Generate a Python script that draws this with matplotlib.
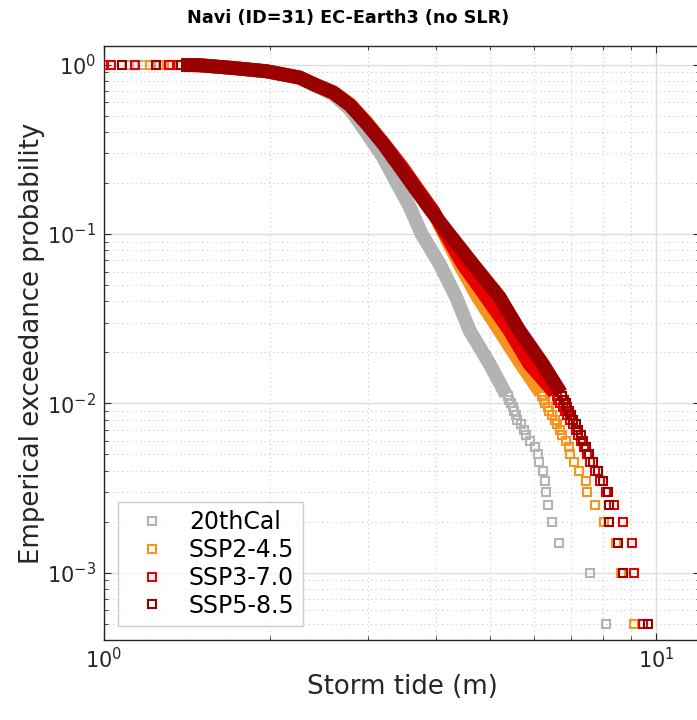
import matplotlib
matplotlib.use("Agg")
import matplotlib.pyplot as plt

plt.rcParams['font.family'] = ['DejaVu Sans']
plt.rcParams['mathtext.fontset'] = 'dejavusans'

# Scenario names and colours
SERIES = ["20thCal", "SSP2-4.5", "SSP3-7.0", "SSP5-8.5"]
COLORS = ["#b3b3b3", "#f7941d", "#e60000", "#990000"]

# Smallest storm tides of each set (exceedance probability close to 1)
LOW_P = [1.0, 0.9995, 0.999, 0.9985, 0.998]
LOW_20TH = [1.11, 1.17, 1.28]
LOW_SSP245 = [1.21, 1.26, 1.33]
LOW_SSP370 = [1.00, 1.03, 1.14, 1.31, 1.36]
LOW_SSP585 = [1.08, 1.24, 1.38]

# Bulk of the empirical exceedance curves: storm tide (m) vs probability
BODY_X_20TH = [1.40, 1.49, 1.71, 1.97, 2.26, 2.42, 2.60, 2.79, 2.99, 3.20,
               3.39, 3.58, 3.76, 4.05, 4.34, 4.59, 4.99, 5.35]
BODY_P_20TH = [0.998, 0.993, 0.957, 0.912, 0.835, 0.75, 0.67, 0.545, 0.395,
               0.285, 0.20, 0.144, 0.10, 0.0668, 0.0425, 0.027, 0.0171, 0.0112]

BODY_X_SSP245 = [1.38, 1.49, 1.71, 1.97, 2.26, 2.42, 2.60, 2.79, 2.99, 3.20,
                 3.45, 3.70, 3.94, 4.10, 4.40, 4.75, 5.20, 5.69, 6.18]
BODY_P_SSP245 = [0.998, 0.993, 0.957, 0.915, 0.84, 0.76, 0.69, 0.585, 0.458,
                 0.345, 0.25, 0.181, 0.136, 0.105, 0.0668, 0.0425, 0.027,
                 0.0171, 0.0115]

BODY_X_SSP370 = [1.38, 1.49, 1.71, 1.97, 2.26, 2.42, 2.60, 2.79, 2.99, 3.21,
                 3.46, 3.71, 3.95, 4.12, 4.46, 4.92, 5.42, 5.89, 6.55]
BODY_P_SSP370 = [0.998, 0.993, 0.957, 0.915, 0.84, 0.757, 0.685, 0.577,
                 0.449, 0.342, 0.25, 0.181, 0.136, 0.105, 0.0668, 0.0425,
                 0.027, 0.0171, 0.0115]

BODY_X_SSP585 = [1.38, 1.49, 1.71, 1.97, 2.26, 2.42, 2.60, 2.79, 2.99, 3.20,
                 3.43, 3.68, 3.92, 4.17, 4.65, 5.20, 5.65, 6.23, 6.72]
BODY_P_SSP585 = [0.998, 0.993, 0.957, 0.915, 0.84, 0.757, 0.685, 0.577,
                 0.449, 0.342, 0.25, 0.181, 0.136, 0.105, 0.0668, 0.0425,
                 0.027, 0.0171, 0.0115]

# Largest events: exceedance probability of ranks 1..22 (N = 2000)
TAIL_P = [0.0005, 0.0010, 0.0015, 0.0020, 0.0025, 0.0030, 0.0035, 0.0040,
          0.0045, 0.0050, 0.0055, 0.0060, 0.0065, 0.0070, 0.0075, 0.0080,
          0.0085, 0.0090, 0.0095, 0.0100, 0.0105, 0.0110]
TAIL_20TH = [8.11, 7.60, 6.68, 6.48, 6.36, 6.32, 6.30, 6.23, 6.14, 6.10,
             6.02, 5.90, 5.81, 5.75, 5.68, 5.60, 5.57, 5.52, 5.50, 5.46,
             5.42, 5.38]
TAIL_SSP245 = [9.10, 8.62, 8.45, 8.03, 7.75, 7.48, 7.45, 7.24, 7.09, 6.98,
               6.94, 6.85, 6.75, 6.70, 6.62, 6.55, 6.47, 6.40, 6.36, 6.30,
               6.25, 6.20]
TAIL_SSP370 = [9.45, 9.10, 9.03, 8.72, 8.40, 8.10, 7.90, 7.75, 7.60, 7.50,
               7.40, 7.32, 7.22, 7.15, 7.06, 6.98, 6.90, 6.83, 6.77, 6.70,
               6.65, 6.60]
TAIL_SSP585 = [9.68, 8.70, 8.52, 8.22, 8.20, 8.18, 8.00, 7.83, 7.67, 7.55,
               7.45, 7.38, 7.30, 7.22, 7.15, 7.08, 7.02, 6.96, 6.90, 6.85,
               6.80, 6.76]

LOWS = [LOW_20TH, LOW_SSP245, LOW_SSP370, LOW_SSP585]
BODIES = [(BODY_X_20TH, BODY_P_20TH), (BODY_X_SSP245, BODY_P_SSP245),
          (BODY_X_SSP370, BODY_P_SSP370), (BODY_X_SSP585, BODY_P_SSP585)]
TAILS = [TAIL_20TH, TAIL_SSP245, TAIL_SSP370, TAIL_SSP585]

fig = plt.figure(figsize=(6.97, 7.2), dpi=100)
ax = fig.add_axes([104 / 697, 80 / 720, 596 / 697, 594 / 720])

for i, name in enumerate(SERIES):
    c = COLORS[i]
    bx, bp = BODIES[i]
    ax.plot(bx, bp, '-', color=c, lw=10, solid_joinstyle='round',
            solid_capstyle='butt', zorder=2 + i)
    low = LOWS[i]
    xs = low + TAILS[i]
    ps = LOW_P[:len(low)] + TAIL_P
    ax.plot(xs, ps, 's', linestyle='none', mfc='none', mec=c, ms=6.4,
            mew=1.5, label=name, zorder=2 + i)

ax.set_xscale('log')
ax.set_yscale('log')
ax.set_xlim(1, 12)
ax.set_ylim(4e-4, 1.29)

ax.grid(True, which='major', color='#dcdcdc', linestyle='-', linewidth=1.0)
ax.grid(True, which='minor', color='#c8c8c8', linestyle=(0, (1, 3)),
        linewidth=0.8)
ax.set_axisbelow(True)

for s in ax.spines.values():
    s.set_color('#262626')
    s.set_linewidth(1.0)

ax.tick_params(which='both', direction='in', top=True, right=True,
               colors='#262626', labelsize=15)
ax.tick_params(which='major', length=5)
ax.tick_params(which='minor', length=3)
ax.tick_params(axis='x', pad=5)
ax.tick_params(axis='y', pad=6)

ax.set_xlabel('Storm tide (m)', fontsize=18.7, color='#262626', labelpad=1)
ax.set_ylabel('Emperical exceedance probability', fontsize=18.7,
              color='#262626', labelpad=1)

fig.text(348 / 697, 1 - 18 / 720, 'Navi (ID=31) EC-Earth3 (no SLR)',
         ha='center', va='center', fontsize=12.7, fontweight='bold')

leg = ax.legend(loc='lower left', bbox_to_anchor=(0.0235, 0.0236),
                borderaxespad=0, fontsize=17, frameon=True, fancybox=False,
                handlelength=2.2, handletextpad=0.45, labelspacing=0.16,
                borderpad=0.35, markerscale=0.85)
leg.get_frame().set_edgecolor('#c0c0c0')
leg.get_frame().set_linewidth(1.0)

fig.savefig('out.png', dpi=100)
